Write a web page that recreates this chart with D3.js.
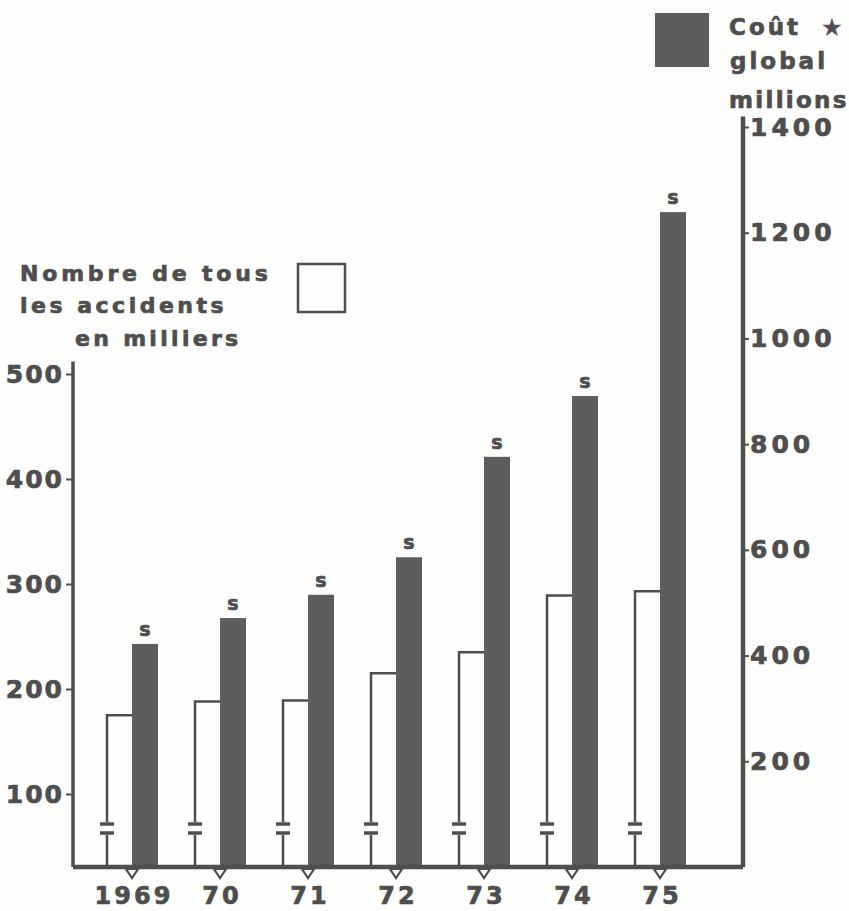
<!DOCTYPE html>
<html>
<head>
<meta charset="utf-8">
<script src="https://cdn.jsdelivr.net/npm/d3@7"></script>
<style>
  html, body { margin: 0; padding: 0; background: #fdfdfc; }
  svg { display: block; }
  text { font-family: "DejaVu Sans", sans-serif; font-weight: bold; fill: #4e4e4e; stroke: #4e4e4e; stroke-width: 0.7px; }
</style>
</head>
<body>
<svg id="chart" width="849" height="911"></svg>
<script>
// ---- data ----
const years = ["1969", "70", "71", "72", "73", "74", "75"];
const accidents = [175, 188, 189, 215, 235, 289, 293];        // thousands (left axis)
const cost = [422, 471, 515, 586, 776, 891, 1239];            // millions (right axis)
const leftTicks = [100, 200, 300, 400, 500];
const rightTicks = [200, 400, 600, 800, 1000, 1200, 1400];
const leftTitle = ["Nombre de tous", "les accidents", "en milliers"];
const rightTitle = ["Coût", "global", "millions"];

const ink = "#4e4e4e";
const barDark = "#5d5d5d";

const svg = d3.select("#chart");

// scales
const x = d3.scalePoint().domain(years).range([132, 660]);
const yL = d3.scaleLinear().domain([100, 500]).range([794, 374]);
const yR = d3.scaleLinear().domain([0, 1400]).range([867, 127]);
const bw = 26;
const base = yR(0);
const leftX = 73, rightX = 743;

// dark bars (cost)
svg.append("g").selectAll("rect").data(years).join("rect")
  .attr("x", d => x(d))
  .attr("y", (d, i) => yR(cost[i]))
  .attr("width", bw)
  .attr("height", (d, i) => base - yR(cost[i]))
  .attr("fill", barDark);

// "s" labels
svg.append("g").selectAll("text").data(years).join("text")
  .attr("x", d => x(d) + bw / 2)
  .attr("y", (d, i) => yR(cost[i]) - 8)
  .attr("text-anchor", "middle")
  .attr("font-size", 19)
  .text("s");

// white bars (accidents) drawn as open outlines with break marks
const wb = svg.append("g").attr("fill", "none").attr("stroke", ink).attr("stroke-width", 2.5);
years.forEach((d, i) => {
  const l = x(d) - bw + 1;
  const top = yL(accidents[i]);
  wb.append("path")
    .attr("d", `M${l},${base} V${base - 32} M${l},${base - 45} V${top} H${x(d)}`);
  // break marks
  wb.append("line").attr("x1", l - 7).attr("x2", l + 7)
    .attr("y1", base - 34).attr("y2", base - 34).attr("stroke-width", 3.5);
  wb.append("line").attr("x1", l - 7).attr("x2", l + 7)
    .attr("y1", base - 43).attr("y2", base - 43).attr("stroke-width", 3.5);
});

// baseline
svg.append("line").attr("x1", leftX).attr("x2", rightX)
  .attr("y1", base).attr("y2", base)
  .attr("stroke", ink).attr("stroke-width", 4.5);

// small triangles below baseline
svg.append("g").selectAll("path").data(years).join("path")
  .attr("d", d => `M${x(d) - 6},${base + 2} L${x(d) + 6},${base + 2} L${x(d)},${base + 11} Z`)
  .attr("fill", "#fdfdfc").attr("stroke", ink).attr("stroke-width", 2.2);

// x labels
svg.append("g").selectAll("text").data(years).join("text")
  .attr("x", d => x(d) + 2)
  .attr("y", 904)
  .attr("text-anchor", "middle")
  .attr("font-size", 24)
  .attr("letter-spacing", 3)
  .text(d => d);

// left axis
svg.append("line").attr("x1", leftX).attr("x2", leftX)
  .attr("y1", yL(512)).attr("y2", base)
  .attr("stroke", ink).attr("stroke-width", 3.5);
const gl = svg.append("g").attr("transform", `translate(${leftX},0)`)
  .call(d3.axisLeft(yL).tickValues(leftTicks).tickFormat(d3.format("d"))
    .tickSize(7).tickPadding(2).tickSizeOuter(0));
gl.select(".domain").remove();
gl.selectAll(".tick line").attr("stroke", ink).attr("stroke-width", 2);
gl.selectAll(".tick text").attr("font-size", 25).attr("letter-spacing", 2)
  .attr("fill", ink).attr("font-family", null);

// right axis
svg.append("line").attr("x1", rightX).attr("x2", rightX)
  .attr("y1", yR(1420)).attr("y2", base)
  .attr("stroke", ink).attr("stroke-width", 4.5);
const gr = svg.append("g").attr("transform", `translate(${rightX},0)`)
  .call(d3.axisRight(yR).tickValues(rightTicks).tickFormat(d3.format("d"))
    .tickSize(6).tickPadding(1).tickSizeOuter(0));
gr.select(".domain").remove();
gr.selectAll(".tick line").attr("stroke", ink).attr("stroke-width", 2);
gr.selectAll(".tick text").attr("font-size", 25).attr("letter-spacing", 4)
  .attr("fill", ink).attr("font-family", null);

// left legend
const lt = svg.append("g");
lt.append("text").attr("x", 20).attr("y", 281).attr("font-size", 22).attr("letter-spacing", 3.8).text(leftTitle[0]);
lt.append("text").attr("x", 20).attr("y", 313).attr("font-size", 22).attr("letter-spacing", 3.5).text(leftTitle[1]);
lt.append("text").attr("x", 75).attr("y", 346).attr("font-size", 22).attr("letter-spacing", 3.3).text(leftTitle[2]);
lt.append("rect").attr("x", 298).attr("y", 264).attr("width", 47).attr("height", 48)
  .attr("fill", "none").attr("stroke", ink).attr("stroke-width", 2.5);

// right legend
const rt = svg.append("g");
rt.append("rect").attr("x", 655).attr("y", 13).attr("width", 54).attr("height", 54).attr("fill", barDark);
rt.append("text").attr("x", 729).attr("y", 35).attr("font-size", 23).attr("letter-spacing", 3).text(rightTitle[0]);
rt.append("text").attr("x", 822).attr("y", 35).attr("font-size", 22).text("★");
rt.append("text").attr("x", 730).attr("y", 69).attr("font-size", 23).attr("letter-spacing", 3).text(rightTitle[1]);
rt.append("text").attr("x", 729).attr("y", 108).attr("font-size", 23).attr("letter-spacing", 2.3).text(rightTitle[2]);
</script>
</body>
</html>
